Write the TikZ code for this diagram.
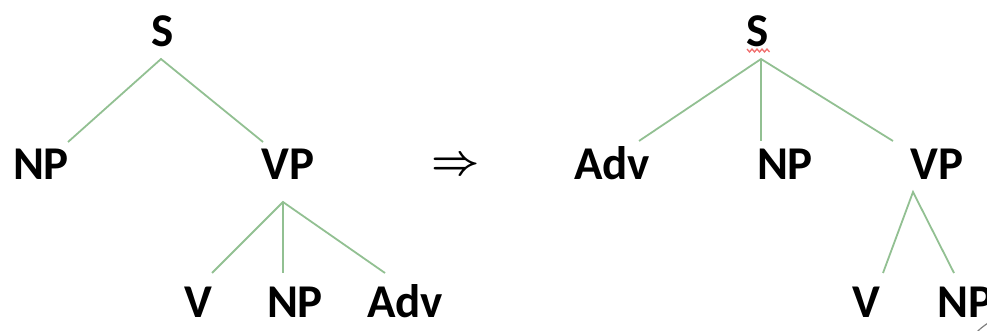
\documentclass[tikz,border=0pt]{standalone}
\usepackage{fontspec}
\setmainfont{Carlito}
\begin{document}
\begin{tikzpicture}[x=1pt,y=-1pt,
  lbl/.style={inner sep=0pt, anchor=base, font=\fontsize{47}{47}\selectfont\bfseries},
  edge/.style={draw=treegreen, line width=1.8pt}]
\definecolor{treegreen}{RGB}{146,192,146}
\definecolor{squig}{RGB}{240,110,110}
\useasboundingbox (0,0) rectangle (987,331);
\begin{scope}
\clip (0,0) rectangle (987,331);
% left tree
\node[lbl] (SL) at (163,47) {S};
\node[lbl] (NPL) at (41,180) {NP};
\node[lbl] (VPL) at (288,180) {VP};
\node[lbl] (VL) at (198,317) {V};
\node[lbl] (NPL2) at (295,317) {NP};
\node[lbl] (AdvL) at (405,317) {Adv};
\coordinate (a1) at (161,59);
\coordinate (e1) at (68,142);
\coordinate (e2) at (263,142);
\coordinate (a2) at (283,202);
\coordinate (e3) at (212,273);
\coordinate (e4) at (283,273);
\coordinate (e5) at (385,273);
\draw[edge] (e1) -- (a1) -- (e2);
\draw[edge] (e3) -- (a2) -- (e5);
\draw[edge] (a2) -- (e4);
% arrow
\node[inner sep=0pt] (arr) at (456,166) {\scalebox{4.2}{\boldmath$\Rightarrow$}};
% right tree
\node[lbl] (SR) at (758,47) {S};
\node[lbl] (AdvR) at (612,180) {Adv};
\node[lbl] (NPR) at (785,180) {NP};
\node[lbl] (VPR) at (937,180) {VP};
\node[lbl] (VR) at (866,317) {V};
\node[lbl, anchor=base west] (NPR2) at (937,317) {NP};
\coordinate (b1) at (761,59);
\coordinate (f1) at (639,141);
\coordinate (f2) at (761,141);
\coordinate (f3) at (893,141);
\coordinate (b2) at (913,192);
\coordinate (f4) at (883,273);
\coordinate (f5) at (954,273);
\draw[edge] (f1) -- (b1) -- (f3);
\draw[edge] (b1) -- (f2);
\draw[edge] (f4) -- (b2) -- (f5);
% spelling squiggle
\draw[squig, line width=1.3pt] (747,49) -- (749.5,52) -- (752,49) -- (754.5,52) -- (757,49) -- (759.5,52) -- (762,49) -- (764.5,52) -- (767,49) -- (769.5,52);
% corner curl
\draw[gray, line width=1.2pt] (977,332) .. controls (981,328) .. (988,323);
\end{scope}
\end{tikzpicture}
\end{document}
